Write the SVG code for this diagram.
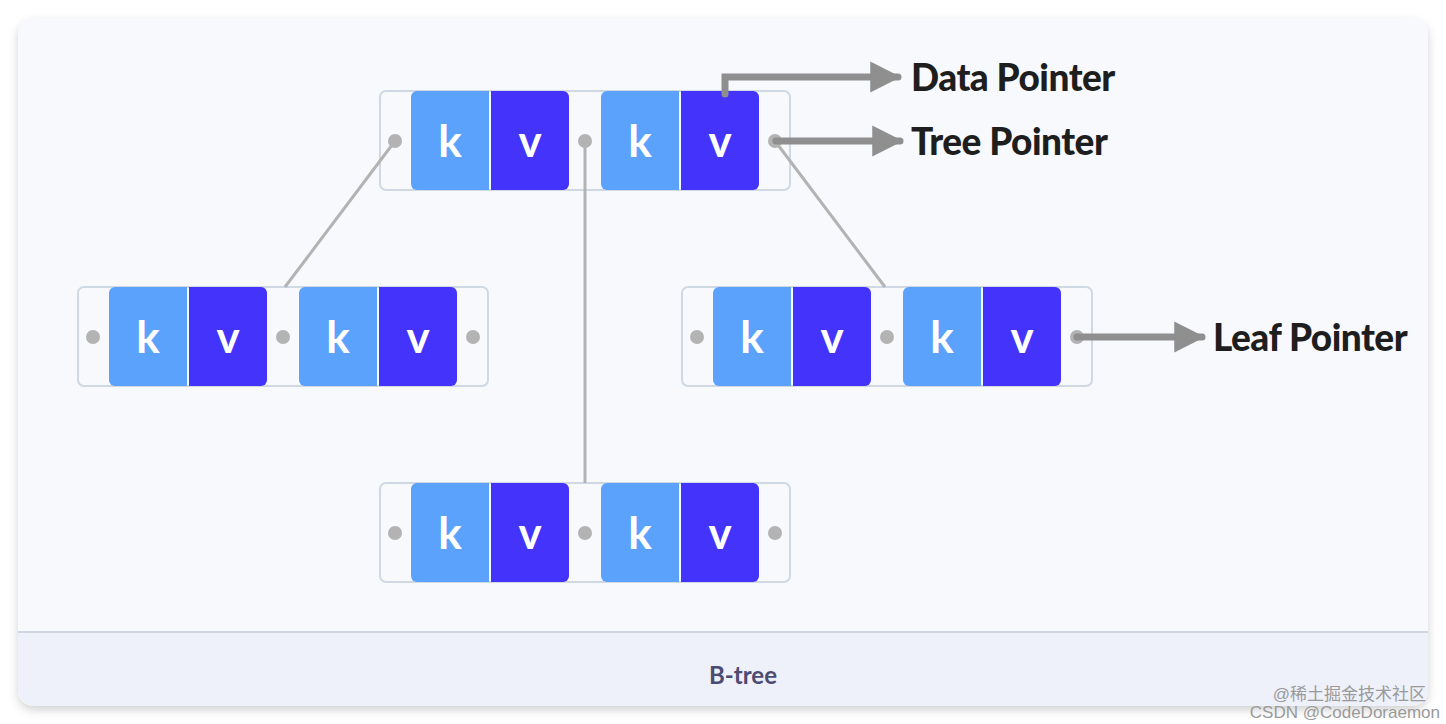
<svg xmlns="http://www.w3.org/2000/svg" width="1446" height="724" viewBox="0 0 1446 724">
<defs>
<filter id="sh" x="-5%" y="-5%" width="110%" height="115%"><feDropShadow dx="0" dy="4" stdDeviation="5" flood-color="#000" flood-opacity="0.18"/></filter>
<marker id="ah" viewBox="0 0 10 10" refX="9" refY="5" markerWidth="4.4" markerHeight="4.6" markerUnits="strokeWidth" orient="auto"><path d="M0,0L10,5L0,10z" fill="#8f8f8f"/></marker>
<clipPath id="cc"><rect x="18" y="18" width="1410" height="688" rx="16"/></clipPath>
</defs>
<style>
.box{fill:#f7f9fc;stroke:#cfd8e3;stroke-width:2}
.k{fill:#5aa2fb}.v{fill:#4433fa}
.kv{font-family:Lato,"Liberation Sans",sans-serif;font-weight:700;font-size:44px;fill:#fff;text-anchor:middle}
.dot{fill:#b3b3b3}
.ln{stroke:#b3b3b3;stroke-width:3;fill:none}
.ar{stroke:#8f8f8f;stroke-width:7;fill:none;marker-end:url(#ah);stroke-linecap:round}
.lb{font-family:Lato,"Liberation Sans",sans-serif;font-weight:900;font-size:37px;fill:#1e1e1e;letter-spacing:-0.5px}
</style>
<rect width="1446" height="724" fill="#fff"/>
<rect x="18" y="18" width="1410" height="688" rx="16" fill="#f7f9fc" filter="url(#sh)"/>
<g clip-path="url(#cc)"><rect x="18" y="632" width="1410" height="80" fill="#eef0fa"/></g>
<line x1="18" y1="632" x2="1428" y2="632" stroke="#cfd6e2" stroke-width="2"/>
<text x="743" y="684" text-anchor="middle" font-family="Lato,'Liberation Sans',sans-serif" font-weight="700" font-size="24" fill="#4b4b73">B-tree</text>

<g id="node-top" transform="translate(380,91)">
<rect class="box" width="410" height="99" rx="6"/>
<rect class="k" x="31" width="78" height="99" rx="6"/><rect class="k" x="60" width="49" height="99"/>
<rect class="v" x="111" width="78" height="99" rx="6"/><rect class="v" x="111" width="40" height="99"/>
<rect class="k" x="221" width="78" height="99" rx="6"/><rect class="k" x="250" width="49" height="99"/>
<rect class="v" x="301" width="78" height="99" rx="6"/><rect class="v" x="301" width="40" height="99"/>
<text class="kv" x="70" y="66">k</text><text class="kv" x="150" y="66">v</text>
<text class="kv" x="260" y="66">k</text><text class="kv" x="340" y="66">v</text>
<circle class="dot" cx="15" cy="50" r="7"/><circle class="dot" cx="205" cy="50" r="7"/><circle class="dot" cx="395" cy="50" r="7"/>
</g>
<g id="node-left" transform="translate(78,287)">
<rect class="box" width="410" height="99" rx="6"/>
<rect class="k" x="31" width="78" height="99" rx="6"/><rect class="k" x="60" width="49" height="99"/>
<rect class="v" x="111" width="78" height="99" rx="6"/><rect class="v" x="111" width="40" height="99"/>
<rect class="k" x="221" width="78" height="99" rx="6"/><rect class="k" x="250" width="49" height="99"/>
<rect class="v" x="301" width="78" height="99" rx="6"/><rect class="v" x="301" width="40" height="99"/>
<text class="kv" x="70" y="66">k</text><text class="kv" x="150" y="66">v</text>
<text class="kv" x="260" y="66">k</text><text class="kv" x="340" y="66">v</text>
<circle class="dot" cx="15" cy="50" r="7"/><circle class="dot" cx="205" cy="50" r="7"/><circle class="dot" cx="395" cy="50" r="7"/>
</g>
<g id="node-right" transform="translate(682,287)">
<rect class="box" width="410" height="99" rx="6"/>
<rect class="k" x="31" width="78" height="99" rx="6"/><rect class="k" x="60" width="49" height="99"/>
<rect class="v" x="111" width="78" height="99" rx="6"/><rect class="v" x="111" width="40" height="99"/>
<rect class="k" x="221" width="78" height="99" rx="6"/><rect class="k" x="250" width="49" height="99"/>
<rect class="v" x="301" width="78" height="99" rx="6"/><rect class="v" x="301" width="40" height="99"/>
<text class="kv" x="70" y="66">k</text><text class="kv" x="150" y="66">v</text>
<text class="kv" x="260" y="66">k</text><text class="kv" x="340" y="66">v</text>
<circle class="dot" cx="15" cy="50" r="7"/><circle class="dot" cx="205" cy="50" r="7"/><circle class="dot" cx="395" cy="50" r="7"/>
</g>
<g id="node-bottom" transform="translate(380,483)">
<rect class="box" width="410" height="99" rx="6"/>
<rect class="k" x="31" width="78" height="99" rx="6"/><rect class="k" x="60" width="49" height="99"/>
<rect class="v" x="111" width="78" height="99" rx="6"/><rect class="v" x="111" width="40" height="99"/>
<rect class="k" x="221" width="78" height="99" rx="6"/><rect class="k" x="250" width="49" height="99"/>
<rect class="v" x="301" width="78" height="99" rx="6"/><rect class="v" x="301" width="40" height="99"/>
<text class="kv" x="70" y="66">k</text><text class="kv" x="150" y="66">v</text>
<text class="kv" x="260" y="66">k</text><text class="kv" x="340" y="66">v</text>
<circle class="dot" cx="15" cy="50" r="7"/><circle class="dot" cx="205" cy="50" r="7"/><circle class="dot" cx="395" cy="50" r="7"/>
</g>
<g id="connectors">
<line class="ln" x1="395" y1="141" x2="285" y2="287"/>
<line class="ln" x1="585" y1="141" x2="585" y2="483"/>
<line class="ln" x1="775" y1="141" x2="885" y2="287"/>
<path class="ar" d="M725,94V77H898"/>
<line class="ar" x1="776" y1="141" x2="900" y2="141"/>
<line class="ar" x1="1077" y1="337" x2="1202" y2="337"/>
</g>
<g id="labels">
<text class="lb" x="911" y="91">Data Pointer</text>
<text class="lb" x="911" y="155">Tree Pointer</text>
<text class="lb" x="1213" y="351">Leaf Pointer</text>
</g>
<g font-family="'Liberation Sans','Noto Sans CJK SC',sans-serif" font-size="17" fill="#9a9a9a" text-anchor="end">
<text x="1426" y="700">@稀土掘金技术社区</text>
<text x="1440" y="718">CSDN @CodeDoraemon</text>
</g>
</svg>
